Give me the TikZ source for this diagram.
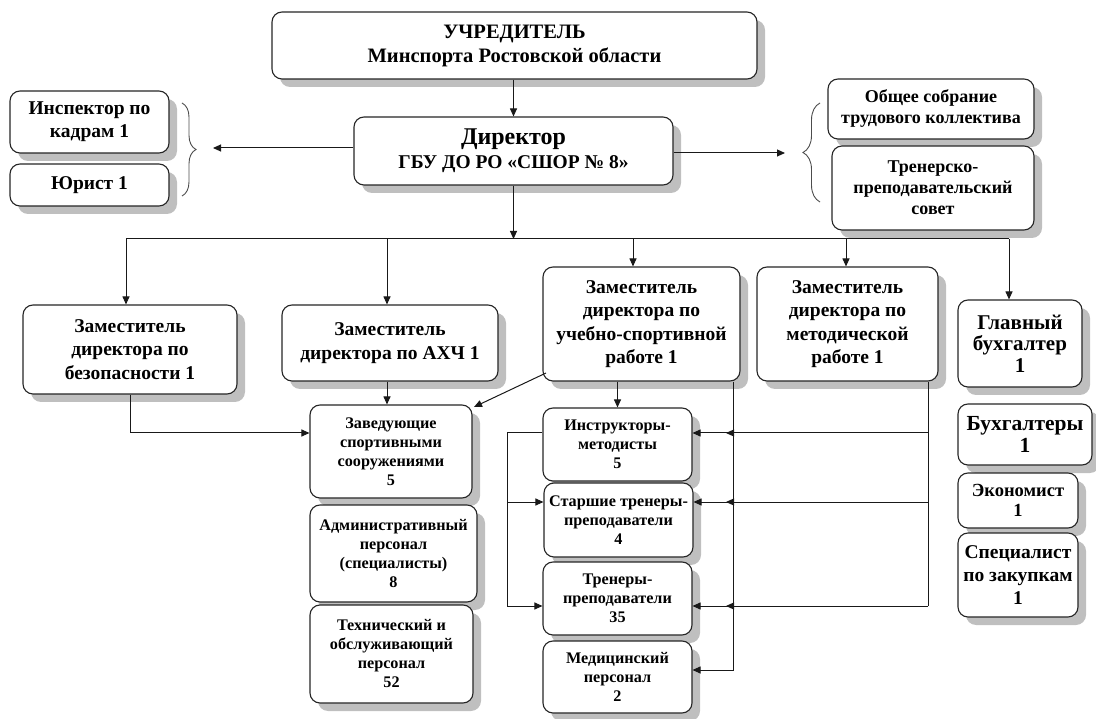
\documentclass[tikz,border=0pt]{standalone}
\usepackage{fontspec}
\setmainfont{Liberation Serif}
\usetikzlibrary{arrows.meta,shadows,decorations.pathreplacing}
\newcommand{\fz}[2]{\fontsize{#1}{#2}\selectfont\bfseries}
\tikzset{
  box/.style={draw=black!85, line width=1.1pt, rounded corners=10pt, fill=white,
    align=center, inner sep=0pt,
    drop shadow={shadow xshift=8pt, shadow yshift=-8pt, fill=black!25, opacity=1}},
  arr/.style={-{Triangle[length=8pt,width=7pt]}, line width=1pt, draw=black!90},
  ln/.style={line width=1pt, draw=black!90},
  brc/.style={line width=0.9pt, draw=black!70, decorate},
  big/.style={font=\fz{19.5}{23.3}},
  mid/.style={font=\fz{18}{21}},
  sml/.style={font=\fz{16.2}{19}},
}
\begin{document}
\begin{tikzpicture}[x=1pt,y=-1pt]
\useasboundingbox (0,0) rectangle (1096,719);
% boxes
\node[box, font=\fz{20.5}{24}, minimum width=485pt, minimum height=67pt] (uchr) at (514.5,45.5) {УЧРЕДИТЕЛЬ\\Минспорта Ростовской области};
\node[box, font=\fz{19.5}{24}, minimum width=319pt, minimum height=68pt] (dir) at (513.5,151) {{\fontsize{24}{26}\selectfont Директор}\\ГБУ ДО РО «СШОР № 8»};
\node[box, big, minimum width=159pt, minimum height=62pt] (insp) at (89.5,122) {Инспектор по\\кадрам 1};
\node[box, big, minimum width=159pt, minimum height=42pt] (jur) at (89.5,185) {Юрист 1};
\node[box, mid, minimum width=206pt, minimum height=60pt] (obsh) at (931,109) {Общее собрание\\трудового коллектива};
\node[box, mid, minimum width=202pt, minimum height=84pt] (tren) at (933,188) {Тренерско-\\преподавательский\\совет};
\node[box, big, minimum width=214pt, minimum height=89pt] (zbez) at (130,349.5) {Заместитель\\директора по\\безопасности 1};
\node[box, big, minimum width=216pt, minimum height=76pt] (zahch) at (390,343) {Заместитель\\директора по АХЧ 1};
\node[box, big, minimum width=197pt, minimum height=114pt] (zuch) at (641.5,324) {Заместитель\\директора по\\учебно-спортивной\\работе 1};
\node[box, big, minimum width=181pt, minimum height=114pt] (zmet) at (847.5,324) {Заместитель\\директора по\\методической\\работе 1};
\node[box, font=\fz{21}{21.5}, minimum width=124pt, minimum height=87pt] (glbuh) at (1020,343.5) {Главный\\бухгалтер\\1};
\node[box, font=\fz{21.5}{22}, minimum width=134pt, minimum height=61pt] (buh) at (1025,434.5) {Бухгалтеры\\1};
\node[box, font=\fz{18.5}{20}, minimum width=120pt, minimum height=55pt] (econ) at (1018,500.5) {Экономист\\1};
\node[box, font=\fz{19.5}{23}, minimum width=120pt, minimum height=84pt] (spec) at (1018,575) {Специалист\\по закупкам\\1};
\node[box, sml, minimum width=162pt, minimum height=93pt] (zav) at (391,451.5) {Заведующие\\спортивными\\сооружениями\\5};
\node[box, sml, minimum width=167pt, minimum height=97pt] (adm) at (393.5,553.5) {Административный\\персонал\\(специалисты)\\8};
\node[box, sml, minimum width=163pt, minimum height=98pt] (tech) at (391.5,654) {Технический и\\обслуживающий\\персонал\\52};
\node[box, sml, minimum width=149pt, minimum height=73pt] (instr) at (617.5,444.5) {Инструкторы-\\методисты\\5};
\node[box, sml, minimum width=149pt, minimum height=74pt] (star) at (618.5,520) {Старшие тренеры-\\преподаватели\\4};
\node[box, sml, minimum width=149pt, minimum height=73pt] (trn) at (617.5,598.5) {Тренеры-\\преподаватели\\35};
\node[box, sml, minimum width=149pt, minimum height=72pt] (med) at (617.5,677) {Медицинский\\персонал\\2};
% coordinates
\coordinate (lbt) at (213,148);
\coordinate (rbt) at (785,153);
\coordinate (busL) at (126,239);
\coordinate (busR) at (1009,239);
\coordinate (b2) at (387,239);
\coordinate (b3) at (633,239);
\coordinate (b4) at (846,239);
\coordinate (zb1) at (130,433);
\coordinate (dg1) at (546,373);
\coordinate (dg2) at (474,407);
\coordinate (v1) at (733,433);
\coordinate (m1) at (733,670);
\coordinate (h1) at (928,433);
\coordinate (h2) at (928,502);
\coordinate (h3) at (928,606);
\coordinate (tp) at (726,433);
\coordinate (lk) at (507,433);
% braces
\draw[brc, decoration={brace, amplitude=14pt}] (182,103) -- (182,196);
\draw[brc, decoration={brace, amplitude=17pt}] (820,202) -- (820,103);
% connectors top
\draw[arr] (uchr.south -| dir.north) -- (dir.north);
\draw[arr] (dir.west |- lbt) -- (lbt);
\draw[arr] (dir.east |- rbt) -- (rbt);
\draw[arr] (dir.south) -- (dir.south |- busL);
\draw[ln] (busL) -- (busR);
\draw[arr] (busL) -- (busL |- zbez.north);
\draw[arr] (b2) -- (b2 |- zahch.north);
\draw[arr] (b3) -- (b3 |- zuch.north);
\draw[arr] (b4) -- (b4 |- zmet.north);
\draw[arr] (busR) -- (busR |- glbuh.north);
% left group
\draw[arr] (zahch.south -| b2) -- (b2 |- zav.north);
\draw[arr] (zbez.south -| zb1) -- (zb1) -- (zb1 -| zav.west);
\draw[arr] (dg1) -- (dg2);
% middle group
\draw[arr] (zuch.south -| instr.north) -- (instr.north);
\draw[arr] (zuch.south -| m1) -- (m1) -- (m1 -| med.east);
\draw[ln] (zmet.south -| h1) -- (h3);
\draw[arr] (h1) -- (tp);
\draw[arr] (h2) -- (h2 -| tp);
\draw[arr] (h3) -- (h3 -| tp);
\draw[arr] (v1) -- (v1 -| instr.east);
\draw[arr] (h2 -| v1) -- (h2 -| star.east);
\draw[arr] (h3 -| v1) -- (h3 -| trn.east);
\draw[ln] (instr.west |- lk) -- (lk) -- (lk |- h3);
\draw[arr] (lk |- h2) -- (h2 -| star.west);
\draw[arr] (lk |- h3) -- (h3 -| trn.west);
\end{tikzpicture}
\end{document}
